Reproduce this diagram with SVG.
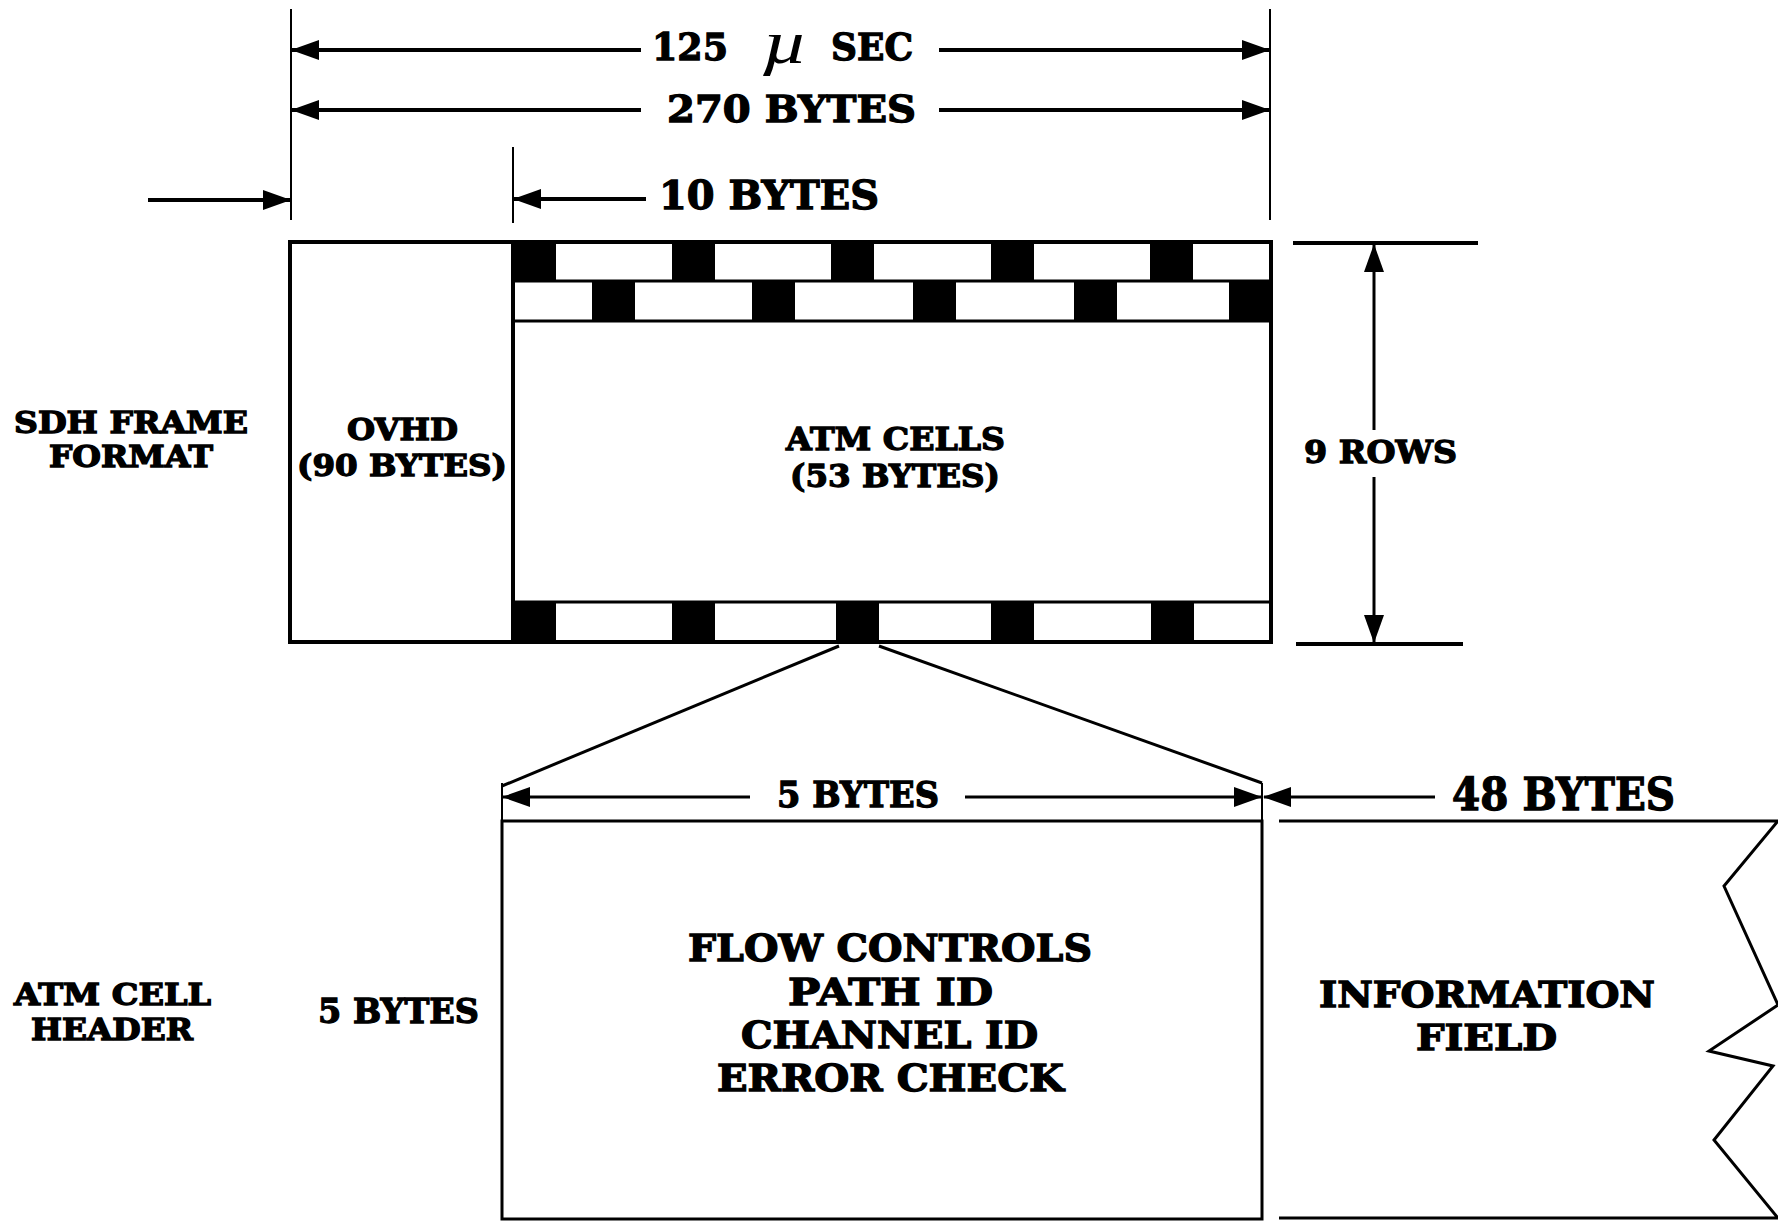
<svg xmlns="http://www.w3.org/2000/svg" width="1778" height="1221" viewBox="0 0 1778 1221">
<style>
.t{font-family:"DejaVu Serif","Liberation Serif",serif;font-weight:bold;fill:#000;stroke:#000;stroke-width:1.3}
.ln{stroke:#000;fill:none}
.thick{stroke-width:4}
.med{stroke-width:3}
.thin{stroke-width:2}
.blk{fill:#000}
</style>
<defs>
<marker id="ah" markerUnits="userSpaceOnUse" markerWidth="28" markerHeight="22" viewBox="0 0 28 22" refX="27" refY="11" orient="auto-start-reverse">
<path d="M0,1 L28,11 L0,21 Z" fill="#000"/>
</marker>
</defs>
<rect width="1778" height="1221" fill="#fff"/>

<g id="sdh-frame">
<rect x="290" y="242" width="981" height="400" class="ln thick"/>
<line x1="513" y1="242" x2="513" y2="642" class="ln thick"/>
<line x1="513" y1="281" x2="1271" y2="281" class="ln med"/>
<line x1="513" y1="321" x2="1271" y2="321" class="ln med"/>
<line x1="513" y1="602" x2="1271" y2="602" class="ln med"/>
<g class="blk">
<rect x="513" y="242" width="43" height="39"/>
<rect x="672" y="242" width="43" height="39"/>
<rect x="831" y="242" width="43" height="39"/>
<rect x="991" y="242" width="43" height="39"/>
<rect x="1150" y="242" width="43" height="39"/>
<rect x="592" y="281" width="43" height="40"/>
<rect x="752" y="281" width="43" height="40"/>
<rect x="913" y="281" width="43" height="40"/>
<rect x="1074" y="281" width="43" height="40"/>
<rect x="1229" y="281" width="42" height="40"/>
<rect x="513" y="602" width="43" height="40"/>
<rect x="672" y="602" width="43" height="40"/>
<rect x="836" y="602" width="43" height="40"/>
<rect x="991" y="602" width="43" height="40"/>
<rect x="1151" y="602" width="43" height="40"/>
</g>
</g>

<g id="ovhd">
<text class="t" x="347" y="440" font-size="30" textLength="111" lengthAdjust="spacingAndGlyphs">OVHD</text>
<text class="t" x="297" y="476" font-size="30" textLength="210" lengthAdjust="spacingAndGlyphs">(90 BYTES)</text>
</g>

<g id="atm-cells">
<text class="t" x="786" y="450" font-size="31" textLength="219" lengthAdjust="spacingAndGlyphs">ATM CELLS</text>
<text class="t" x="790" y="487" font-size="31" textLength="210" lengthAdjust="spacingAndGlyphs">(53 BYTES)</text>
</g>

<g id="sdh-label">
<text class="t" x="14" y="433" font-size="29" textLength="234" lengthAdjust="spacingAndGlyphs">SDH FRAME</text>
<text class="t" x="49" y="467" font-size="29" textLength="164" lengthAdjust="spacingAndGlyphs">FORMAT</text>
</g>

<g id="header">
<rect x="502" y="821" width="760" height="398" class="ln med"/>
<text class="t" x="688" y="961" font-size="37" textLength="404" lengthAdjust="spacingAndGlyphs">FLOW CONTROLS</text>
<text class="t" x="788" y="1005" font-size="37" textLength="205" lengthAdjust="spacingAndGlyphs">PATH ID</text>
<text class="t" x="741" y="1048" font-size="37" textLength="297" lengthAdjust="spacingAndGlyphs">CHANNEL ID</text>
<text class="t" x="717" y="1091" font-size="37" textLength="347" lengthAdjust="spacingAndGlyphs">ERROR CHECK</text>
</g>

<g id="info-field">
<path d="M1279,821 L1778,821 L1724,886 L1778,1005 L1709,1051 L1773,1066 L1714,1140 L1778,1218 L1279,1218" class="ln med"/>
<text class="t" x="1319" y="1007" font-size="36" textLength="336" lengthAdjust="spacingAndGlyphs">INFORMATION</text>
<text class="t" x="1416" y="1050" font-size="36" textLength="141" lengthAdjust="spacingAndGlyphs">FIELD</text>
</g>

<g id="cell-label">
<text class="t" x="14" y="1005" font-size="29" textLength="197" lengthAdjust="spacingAndGlyphs">ATM CELL</text>
<text class="t" x="31" y="1040" font-size="29" textLength="162" lengthAdjust="spacingAndGlyphs">HEADER</text>
<text class="t" x="318" y="1023" font-size="34" textLength="161" lengthAdjust="spacingAndGlyphs">5 BYTES</text>
</g>

<g id="dimension-labels">
<text class="t" x="652" y="60" font-size="38" textLength="76" lengthAdjust="spacingAndGlyphs">125</text>
<text x="762" y="63" font-size="62" font-style="italic" font-family="'Liberation Serif',serif" fill="#000" textLength="46" lengthAdjust="spacingAndGlyphs">µ</text>
<text class="t" x="831" y="60" font-size="38" textLength="82" lengthAdjust="spacingAndGlyphs">SEC</text>
<text class="t" x="667" y="122" font-size="37" textLength="249" lengthAdjust="spacingAndGlyphs">270 BYTES</text>
<text class="t" x="659" y="209" font-size="40" textLength="220" lengthAdjust="spacingAndGlyphs">10 BYTES</text>
<text class="t" x="1304" y="463" font-size="32" textLength="153" lengthAdjust="spacingAndGlyphs">9 ROWS</text>
<text class="t" x="777" y="807" font-size="36" textLength="162" lengthAdjust="spacingAndGlyphs">5 BYTES</text>
<text class="t" x="1452" y="810" font-size="44" textLength="223" lengthAdjust="spacingAndGlyphs">48 BYTES</text>
</g>

<g id="connectors">
<line x1="291" y1="9" x2="291" y2="220" class="ln thin"/>
<line x1="1270" y1="9" x2="1270" y2="220" class="ln thin"/>
<line x1="513" y1="147" x2="513" y2="223" class="ln thin"/>
<line x1="641" y1="50" x2="292" y2="50" class="ln thick" marker-end="url(#ah)"/>
<line x1="939" y1="50" x2="1269" y2="50" class="ln thick" marker-end="url(#ah)"/>
<line x1="641" y1="110" x2="292" y2="110" class="ln thick" marker-end="url(#ah)"/>
<line x1="939" y1="110" x2="1269" y2="110" class="ln thick" marker-end="url(#ah)"/>
<line x1="646" y1="199" x2="514" y2="199" class="ln thick" marker-end="url(#ah)"/>
<line x1="148" y1="200" x2="290" y2="200" class="ln thick" marker-end="url(#ah)"/>
<line x1="1293" y1="243" x2="1478" y2="243" class="ln thick"/>
<line x1="1296" y1="644" x2="1463" y2="644" class="ln thick"/>
<line x1="1374" y1="430" x2="1374" y2="245" class="ln med" marker-end="url(#ah)"/>
<line x1="1374" y1="477" x2="1374" y2="642" class="ln med" marker-end="url(#ah)"/>
<line x1="839" y1="646" x2="502" y2="786" class="ln med"/>
<line x1="879" y1="646" x2="1262" y2="783" class="ln med"/>
<line x1="502" y1="783" x2="502" y2="821" class="ln thin"/>
<line x1="1262" y1="783" x2="1262" y2="821" class="ln thin"/>
<line x1="750" y1="797" x2="503" y2="797" class="ln med" marker-end="url(#ah)"/>
<line x1="965" y1="797" x2="1261" y2="797" class="ln med" marker-end="url(#ah)"/>
<line x1="1435" y1="797" x2="1264" y2="797" class="ln med" marker-end="url(#ah)"/>
</g>
</svg>
